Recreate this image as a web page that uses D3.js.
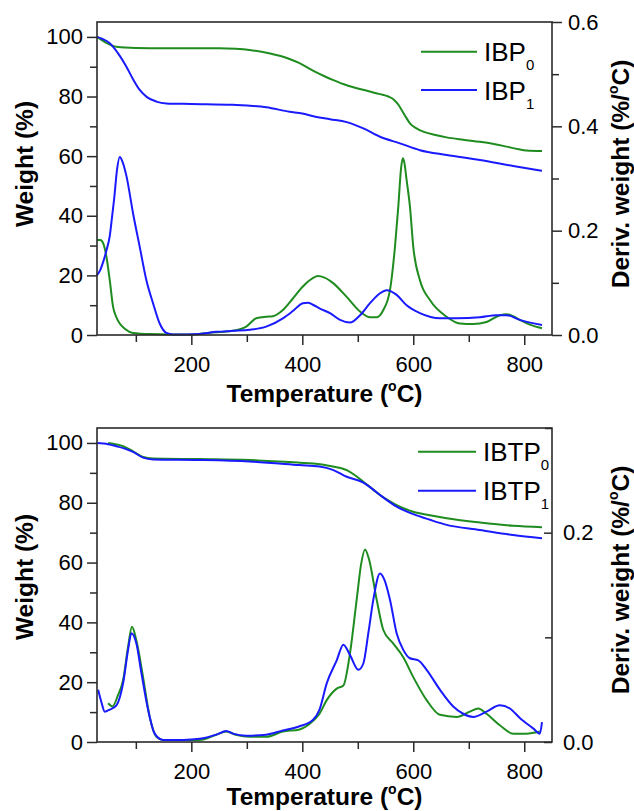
<!DOCTYPE html>
<html>
<head>
<meta charset="utf-8">
<script src="https://cdn.jsdelivr.net/npm/d3@7"></script>
<style>
  html, body { margin: 0; padding: 0; background: #fff; }
  svg { display: block; }
  text { font-family: "Liberation Sans", Arial, sans-serif; fill: #000; }
</style>
</head>
<body>
<svg id="chart" width="634" height="811"></svg>
<script>
// ---------------- DATA ----------------
const xMajorTicks = [200, 400, 600, 800];
const xMinorTicks = [100, 300, 500, 700];
const leftMajorTicks = [0, 20, 40, 60, 80, 100];
const leftMinorTicks = [10, 30, 50, 70, 90];
const topRightMajorTicks = [0, 0.2, 0.4, 0.6];
const topRightMinorTicks = [0.1, 0.3, 0.5];
const botRightMajorTicks = [0, 0.2];
const botRightMinorTicks = [0.1, 0.3];

const topLegend = ["IBP", "IBP"];
const topSubs = ["0", "1"];
const botLegend = ["IBTP", "IBTP"];
const botSubs = ["0", "1"];

// Top panel: weight (%) curves [T, %]
const ibp0Weight = [[30,100],[45,98.2],[65,96.7],[100,96.3],[150,96.2],[200,96.2],[251,96.2],[280,96.0],[305,95.6],[340,94.5],[377,92.6],[395,91.2],[420,88.6],[440,86.8],[456,85.5],[475,84.1],[492,83.1],[515,82.0],[540,80.8],[555,80.0],[564,79.1],[572,77.5],[579,75.5],[587,73.0],[594,71.0],[605,69.4],[618,68.2],[640,67.1],[660,66.3],[690,65.5],[720,64.8],[745,64.1],[768,63.2],[790,62.3],[804,61.9],[832,61.7]];
const ibp1Weight = [[30,100],[40,99.3],[53,97.9],[68,94.5],[83,90.0],[95,85.8],[107,82.2],[120,79.8],[137,78.3],[155,77.7],[200,77.5],[275,77.2],[335,76.4],[377,74.9],[400,74.3],[420,73.4],[450,72.4],[480,71.4],[510,69.3],[540,66.5],[576,64.3],[612,62.0],[660,60.4],[720,58.7],[780,56.7],[832,55.1]];
// Top panel: derivative weight (%/°C)
const ibp0Deriv = [[30,0.182],[36,0.182],[41,0.176],[47,0.15],[53,0.105],[59,0.054],[65,0.034],[71,0.022],[80,0.012],[95,0.004],[125,0.002],[200,0.001],[230,0.004],[275,0.008],[299,0.016],[317,0.032],[335,0.035],[347,0.036],[365,0.048],[383,0.07],[401,0.093],[419,0.109],[428,0.113],[440,0.11],[456,0.099],[480,0.073],[504,0.045],[522,0.034],[534,0.034],[546,0.048],[558,0.086],[567,0.169],[573,0.246],[578,0.32],[581,0.339],[584,0.33],[588,0.297],[594,0.246],[600,0.169],[612,0.105],[630,0.067],[660,0.035],[684,0.022],[708,0.021],[732,0.025],[756,0.038],[768,0.04],[780,0.036],[792,0.029],[810,0.02],[832,0.013]];
const ibp1Deriv = [[30,0.115],[36,0.125],[42,0.143],[47,0.162],[53,0.19],[57,0.225],[61,0.262],[66,0.316],[71,0.341],[76,0.332],[83,0.305],[95,0.233],[107,0.169],[119,0.105],[131,0.061],[143,0.022],[155,0.004],[167,0.001],[215,0.002],[245,0.006],[275,0.008],[305,0.01],[335,0.016],[365,0.032],[383,0.046],[401,0.061],[410,0.062],[419,0.058],[431,0.051],[450,0.042],[468,0.029],[486,0.024],[504,0.038],[522,0.061],[540,0.08],[552,0.086],[570,0.077],[588,0.057],[612,0.042],[648,0.032],[678,0.032],[720,0.034],[750,0.038],[768,0.038],[792,0.029],[832,0.019]];

// Bottom panel: weight (%)
const ibtp0Weight = [[50,100],[65,99.5],[77,98.9],[95,97.2],[113,95.3],[131,94.8],[215,94.6],[305,94.3],[395,93.4],[420,93.1],[450,92.3],[480,90.9],[495,89.2],[510,87.0],[525,84.8],[540,82.6],[555,80.8],[570,79.2],[600,77.0],[630,75.8],[660,74.8],[720,73.4],[780,72.3],[832,71.8]];
const ibtp1Weight = [[30,100],[50,99.6],[65,98.9],[80,98.1],[95,97.0],[113,95.1],[131,94.5],[215,94.3],[305,93.8],[395,92.6],[431,92.1],[455,91.0],[480,88.7],[510,86.7],[525,84.8],[540,82.6],[570,78.7],[600,76.2],[630,74.3],[660,72.6],[720,70.9],[780,69.2],[832,68.1]];
// Bottom panel: derivative weight (%/°C)
const ibtp0Deriv = [[50,0.037],[58,0.034],[68,0.045],[77,0.059],[86,0.091],[93,0.11],[101,0.097],[113,0.062],[125,0.024],[137,0.005],[149,0.002],[215,0.002],[245,0.007],[263,0.01],[280,0.007],[305,0.005],[335,0.005],[365,0.01],[395,0.012],[419,0.02],[431,0.027],[444,0.04],[462,0.051],[474,0.054],[486,0.085],[498,0.136],[506,0.17],[513,0.184],[520,0.175],[534,0.136],[546,0.107],[564,0.094],[582,0.081],[600,0.062],[624,0.04],[648,0.026],[678,0.024],[702,0.029],[717,0.032],[732,0.027],[756,0.016],[780,0.008],[804,0.008],[828,0.01]];
const ibtp1Deriv = [[32,0.05],[38,0.038],[44,0.029],[53,0.031],[65,0.035],[77,0.056],[86,0.088],[92,0.104],[101,0.094],[110,0.066],[122,0.031],[134,0.008],[149,0.002],[185,0.002],[215,0.003],[245,0.007],[263,0.0105],[275,0.008],[299,0.006],[335,0.007],[365,0.011],[395,0.015],[419,0.021],[431,0.031],[444,0.056],[462,0.078],[474,0.093],[486,0.083],[501,0.069],[510,0.075],[519,0.104],[528,0.136],[540,0.161],[548,0.155],[558,0.136],[570,0.104],[582,0.088],[594,0.08],[609,0.078],[624,0.069],[648,0.05],[672,0.034],[690,0.027],[708,0.024],[732,0.029],[756,0.035],[774,0.032],[792,0.023],[816,0.013],[828,0.008],[832,0.019]];

// ---------------- DRAWING ----------------
const GREEN = "#1f8c1f";
const BLUE = "#1a1aff";
const AXIS = "#2a2a2a";

const svg = d3.select("#chart");
svg.append("rect").attr("width", 634).attr("height", 811).attr("fill", "#fff");

const xLeft = 97, xRight = 552;
const x = d3.scaleLinear().domain([30, 850]).range([xLeft, xRight]);

function styleAxis(g, fontSize) {
  g.select(".domain").remove();
  g.selectAll(".tick line").attr("stroke", AXIS).attr("stroke-width", 1.5);
  g.selectAll(".tick text").attr("font-size", fontSize).attr("fill", "#000")
    .attr("font-family", '"Liberation Sans", Arial, sans-serif');
}

function degreeText(sel, before, after) {
  sel.append("tspan").text(before);
  sel.append("tspan").attr("font-size", 14).attr("dy", -11).text("o");
  sel.append("tspan").attr("dy", 11).text(after);
}

function panel(opts) {
  const { top, bottom, weights, derivs, rMax, rMajor, rMinor, rInward,
          legend, subs, legX1, legX2, legTextX, legY, leftTitleY, rightTitleY, xTitleY } = opts;
  const yL = d3.scaleLinear().domain([0, 105]).range([bottom, top]);
  const yR = d3.scaleLinear().domain([0, rMax]).range([bottom, top]);
  const g = svg.append("g");

  // curves
  const lineL = d3.line().x(d => x(d[0])).y(d => yL(d[1])).curve(d3.curveMonotoneX);
  const lineR = d3.line().x(d => x(d[0])).y(d => yR(d[1])).curve(d3.curveMonotoneX);
  const colors = [GREEN, BLUE];
  derivs.forEach((s, i) => g.append("path").datum(s).attr("d", lineR)
    .attr("fill", "none").attr("stroke", colors[i]).attr("stroke-width", 2));
  weights.forEach((s, i) => g.append("path").datum(s).attr("d", lineL)
    .attr("fill", "none").attr("stroke", colors[i]).attr("stroke-width", 2));

  // frame
  g.append("rect").attr("x", xLeft).attr("y", top)
    .attr("width", xRight - xLeft).attr("height", bottom - top)
    .attr("fill", "none").attr("stroke", AXIS).attr("stroke-width", 1.6);

  // bottom axis
  const gx = g.append("g").attr("transform", `translate(0,${bottom})`)
    .call(d3.axisBottom(x).tickValues(xMajorTicks).tickSize(10).tickPadding(11).tickFormat(d3.format("d")));
  styleAxis(gx, 22);
  const gxm = g.append("g").attr("transform", `translate(0,${bottom})`)
    .call(d3.axisBottom(x).tickValues(xMinorTicks).tickSize(7).tickFormat(""));
  styleAxis(gxm, 22);

  // left axis
  const gl = g.append("g").attr("transform", `translate(${xLeft},0)`)
    .call(d3.axisLeft(yL).tickValues(leftMajorTicks).tickSize(10).tickPadding(4).tickFormat(d3.format("d")));
  styleAxis(gl, 22);
  const glm = g.append("g").attr("transform", `translate(${xLeft},0)`)
    .call(d3.axisLeft(yL).tickValues(leftMinorTicks).tickSize(7).tickFormat(""));
  styleAxis(glm, 22);

  // right axis
  const gr = g.append("g").attr("transform", `translate(${xRight},0)`)
    .call(d3.axisRight(yR).tickValues(rMajor).tickSize(rInward ? -8 : 10)
      .tickPadding(rInward ? 11 : 6).tickFormat(d3.format(".1f")));
  styleAxis(gr, 22);
  const grm = g.append("g").attr("transform", `translate(${xRight},0)`)
    .call(d3.axisRight(yR).tickValues(rMinor).tickSize(rInward ? -7 : 7).tickFormat(""));
  styleAxis(grm, 22);

  // axis titles
  g.append("text").attr("transform", `translate(33,${leftTitleY}) rotate(-90)`)
    .attr("text-anchor", "middle").attr("font-size", 24.5).attr("font-weight", "bold")
    .text("Weight (%)");
  const rt = g.append("text").attr("transform", `translate(629,${rightTitleY}) rotate(-90)`)
    .attr("text-anchor", "middle").attr("font-size", 24.5).attr("font-weight", "bold");
  degreeText(rt, "Deriv. weight (%/", "C)");
  const bt = g.append("text").attr("x", (xLeft + xRight) / 2).attr("y", xTitleY)
    .attr("text-anchor", "middle").attr("font-size", 24.5).attr("font-weight", "bold");
  degreeText(bt, "Temperature (", "C)");

  // legend
  legend.forEach((lab, i) => {
    const yy = legY[i];
    g.append("line").attr("x1", legX1).attr("x2", legX2).attr("y1", yy).attr("y2", yy)
      .attr("stroke", colors[i]).attr("stroke-width", 2);
    const t = g.append("text").attr("x", legTextX).attr("y", yy + 9.5).attr("font-size", 26);
    t.append("tspan").text(lab);
    t.append("tspan").attr("font-size", 15).attr("dy", 9).text(subs[i]);
  });
}

panel({
  top: 22, bottom: 335,
  weights: [ibp0Weight, ibp1Weight], derivs: [ibp0Deriv, ibp1Deriv],
  rMax: 0.6, rMajor: topRightMajorTicks, rMinor: topRightMinorTicks, rInward: false,
  legend: topLegend, subs: topSubs, legX1: 421, legX2: 477, legTextX: 484, legY: [51.7, 90],
  leftTitleY: 164, rightTitleY: 174, xTitleY: 402
});

panel({
  top: 428, bottom: 742,
  weights: [ibtp0Weight, ibtp1Weight], derivs: [ibtp0Deriv, ibtp1Deriv],
  rMax: 0.3, rMajor: botRightMajorTicks, rMinor: botRightMinorTicks, rInward: true,
  legend: botLegend, subs: botSubs, legX1: 418, legX2: 476, legTextX: 483, legY: [451.7, 490.7],
  leftTitleY: 577, rightTitleY: 580, xTitleY: 805
});
</script>
</body>
</html>
